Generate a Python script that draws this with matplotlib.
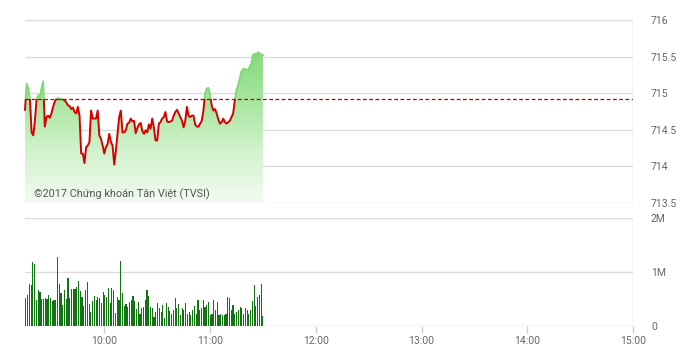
import numpy as np
import matplotlib.pyplot as plt
from matplotlib.colors import LinearSegmentedColormap
from matplotlib.patches import Rectangle

# intraday index (morning session 9:15 - 11:30)
price = [714.77, 715.13, 715.06, 714.91, 714.46, 714.42, 714.62, 714.91, 714.97, 714.94,
         715.06, 715.16, 714.54, 714.67, 714.69, 714.66, 714.72, 714.81, 714.88, 714.92,
         714.93, 714.92, 714.92, 714.91, 714.90, 714.87, 714.83, 714.82, 714.78, 714.80,
         714.74, 714.72, 714.81, 714.69, 714.17, 714.17, 714.04, 714.26, 714.28, 714.33,
         714.76, 714.65, 714.65, 714.65, 714.76, 714.42, 714.37, 714.28, 714.17, 714.26,
         714.30, 714.44, 714.33, 714.28, 714.02, 714.21, 714.44, 714.67, 714.76, 714.46,
         714.46, 714.49, 714.58, 714.59, 714.65, 714.61, 714.62, 714.45, 714.52, 714.57,
         714.59, 714.48, 714.44, 714.49, 714.46, 714.57, 714.51, 714.65, 714.53, 714.35,
         714.35, 714.58, 714.60, 714.65, 714.67, 714.74, 714.61, 714.60, 714.61, 714.62,
         714.69, 714.74, 714.77, 714.72, 714.67, 714.62, 714.53, 714.62, 714.81, 714.69,
         714.67, 714.69, 714.69, 714.57, 714.54, 714.54, 714.58, 714.62, 714.76, 714.99,
         715.06, 715.07, 714.97, 714.83, 714.76, 714.78, 714.72, 714.64, 714.58, 714.60,
         714.65, 714.60, 714.58, 714.60, 714.62, 714.67, 714.72, 714.90, 715.04, 715.11,
         715.20, 715.29, 715.33, 715.33, 715.32, 715.31, 715.36, 715.40, 715.52, 715.54,
         715.52, 715.56, 715.54, 715.53, 715.52]
ref_price = 714.92

# volume per minute, in millions
volume = [0.52, 0.57, 0.78, 0.76, 1.18, 1.14, 0.48, 0.67, 0.63, 0.50,
          0.50, 0.51, 0.50, 0.57, 0.51, 0.47, 0.48, 0.48, 1.28, 0.78,
          0.62, 0.38, 0.66, 0.50, 0.88, 0.51, 0.69, 0.69, 0.69, 0.72,
          0.84, 0.65, 0.54, 0.37, 0.66, 0.81, 0.41, 0.26, 0.46, 0.56,
          0.49, 0.54, 0.52, 0.42, 0.63, 0.57, 0.54, 0.70, 0.43, 0.70,
          0.67, 0.24, 0.54, 0.48, 1.21, 0.62, 0.37, 0.41, 0.36, 0.45,
          0.48, 0.56, 0.47, 0.32, 0.45, 0.23, 0.34, 0.36, 0.49, 0.67,
          0.56, 0.36, 0.34, 0.16, 0.26, 0.43, 0.33, 0.26, 0.39, 0.14,
          0.42, 0.36, 0.28, 0.23, 0.29, 0.51, 0.33, 0.41, 0.20, 0.33,
          0.29, 0.42, 0.23, 0.26, 0.20, 0.29, 0.37, 0.23, 0.48, 0.29,
          0.33, 0.48, 0.36, 0.39, 0.45, 0.20, 0.23, 0.49, 0.29, 0.45,
          0.20, 0.23, 0.20, 0.20, 0.23, 0.54, 0.51, 0.30, 0.39, 0.23,
          0.26, 0.30, 0.36, 0.33, 0.23, 0.33, 0.29, 0.22, 0.29, 0.47,
          0.76, 0.37, 0.54, 0.57, 0.78, 0.18]

xticks = [60, 120, 180, 240, 300, 360]   # minutes after 9:00
xlabels = ['10:00', '11:00', '12:00', '13:00', '14:00', '15:00']

start, end = 15, 150   # 9:15 .. 11:30
t_price = np.linspace(start, end, len(price))
t_vol = np.linspace(start + 0.5, end, len(volume))
price = np.array(price)
volume = np.array(volume) * 1e6

plt.rcParams['font.family'] = ['Roboto', 'DejaVu Sans']
grid_c = '#dcdcdc'
axis_c = '#c5d0dc'
text_c = '#666666'

fig = plt.figure(figsize=(6.9, 3.54), dpi=100)
ax1 = fig.add_axes([25 / 690, 1 - 202.5 / 354, 608 / 690, 182.5 / 354])
ax2 = fig.add_axes([25 / 690, 1 - 326 / 354, 608 / 690, 108 / 354])

for ax in (ax1, ax2):
    ax.set_xlim(start, 360)
    for s in ax.spines.values():
        s.set_visible(False)

# --- price panel ---
for v in [713.5, 714, 714.5, 715, 715.5, 716]:
    ax1.axhline(v, color=grid_c, lw=1, zorder=0)
ax1.axvline(360, color=axis_c, lw=1, zorder=0)

# gradient fill under the line
cmap = LinearSegmentedColormap.from_list('g', ['#f2fbf1', '#d2f2cc', '#a6e59d', '#84d97b'])
poly = ax1.fill_between(t_price, price, 713.5, color='none', lw=0)
grad = np.linspace(0, 1, 256).reshape(-1, 1)
im = ax1.imshow(grad, cmap=cmap, origin='lower', aspect='auto',
                extent=[start, end, 713.5, 715.6], zorder=1)
im.set_clip_path(poly.get_paths()[0], transform=ax1.transData)
ax1.set_xlim(start, 360)
ax1.set_ylim(713.5, 716)

# line: red below reference, green above
lo, = ax1.plot(t_price, price, color='#d50000', lw=1.4, zorder=3)
hi, = ax1.plot(t_price, price, color='#80d878', lw=1.4, zorder=3)
lo.set_clip_path(Rectangle((start - 5, 713), 400, ref_price - 713, transform=ax1.transData))
hi.set_clip_path(Rectangle((start - 5, ref_price), 400, 3, transform=ax1.transData))

ax1.axhline(ref_price, color='#b80000', lw=0.9, ls=(0, (3, 2)), zorder=4)

ax1.text(0.015, 0.045, '©2017 Chứng khoán Tân Việt (TVSI)', transform=ax1.transAxes,
         fontsize=7.8, color='#555555', va='center', ha='left', zorder=5)

ax1.set_xticks([])
ax1.yaxis.tick_right()
ax1.set_yticks([713.5, 714, 714.5, 715, 715.5, 716])
ax1.set_yticklabels(['713.5', '714', '714.5', '715', '715.5', '716'])
ax1.tick_params(axis='y', length=0, pad=13, labelsize=7.5, labelcolor=text_c)

# --- volume panel ---
ax2.set_ylim(0, 2e6)
for v in [1e6, 2e6]:
    ax2.axhline(v, color=grid_c, lw=1, zorder=0)
ax2.axhline(0, color=axis_c, lw=1, zorder=0)
ax2.axvline(360, color=axis_c, lw=1, zorder=0)
ax2.bar(t_vol, volume, width=0.65, color='#107510', zorder=2)

ax2.yaxis.tick_right()
ax2.set_yticks([0, 1e6, 2e6])
ax2.set_yticklabels(['0', '1M', '2M'])
ax2.tick_params(axis='y', length=0, pad=13, labelsize=7.5, labelcolor=text_c)
ax2.set_xticks(xticks)
ax2.set_xticklabels(xlabels)
ax2.tick_params(axis='x', length=5, width=1, color=axis_c, pad=2,
                labelsize=7.5, labelcolor=text_c)

plt.savefig('out.png', dpi=100)
